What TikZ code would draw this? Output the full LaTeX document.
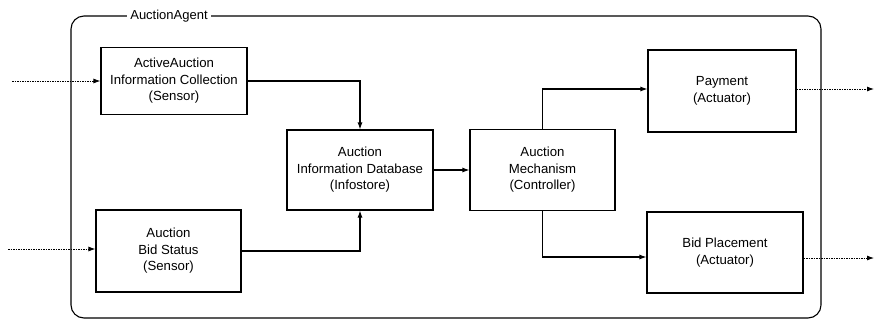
\documentclass[tikz,border=0pt]{standalone}
\usepackage{fontspec}
\setmainfont{Liberation Sans}
\usetikzlibrary{arrows.meta}

\tikzset{
  unit/.style={draw, line width=1.1pt, align=center, inner sep=2pt,
    font=\fontsize{13.2}{16.5}\selectfont},
  flow/.style={line width=1.1pt, -{Latex[length=7pt,width=5pt]}},
  signal/.style={line width=0.9pt, dash pattern=on 1.5pt off 1pt, -{Latex[length=7pt,width=5pt]}}
}

\begin{document}
\begin{tikzpicture} [x=1pt, y=-1pt]
\useasboundingbox (0,0) rectangle (874,322);
% agent frame
\draw [line width=1.1pt, rounded corners=13pt] (71,16) rectangle (821,318);
\node [fill=white, inner xsep=3pt, inner ysep=1pt, font=\fontsize{13}{14}\selectfont] (agent) at (169,16) {AuctionAgent};
% parts
\node [unit, minimum width=146pt, minimum height=67pt] (collect) at (174,81) {ActiveAuction\\Information Collection\\(Sensor)};
\node [unit, minimum width=145pt, minimum height=82pt] (status) at (168.5,251) {Auction\\Bid Status\\(Sensor)};
\node [unit, minimum width=146pt, minimum height=80pt] (infostore) at (360,170) {Auction\\Information Database\\(Infostore)};
\node [unit, minimum width=145pt, minimum height=81pt] (mechanism) at (542.5,170) {Auction\\Mechanism\\(Controller)};
\node [unit, minimum width=148pt, minimum height=82pt] (payment) at (722,91) {Payment\\(Actuator)};
\node [unit, minimum width=156pt, minimum height=81pt] (placement) at (725,252.5) {Bid Placement\\(Actuator)};
% outside ends
\coordinate (in1) at (12,81);
\coordinate (in2) at (8,249);
\coordinate (out1) at (874,89);
\coordinate (out2) at (874,258);
% connectors
\draw [flow] (collect.east) -| (infostore.north);
\draw [flow] (status.east) -| (infostore.south);
\draw [flow] (infostore.east) -- (mechanism.west);
\draw [flow] (mechanism.north) |- (payment.west |- 0,89);
\draw [flow] (mechanism.south) |- (placement.west |- 0,257);
\draw [signal] (in1) -- (collect.west);
\draw [signal] (in2) -- (status.west |- in2);
\draw [signal] (payment.east |- out1) -- (out1);
\draw [signal] (placement.east |- out2) -- (out2);
\end{tikzpicture}
\end{document}
